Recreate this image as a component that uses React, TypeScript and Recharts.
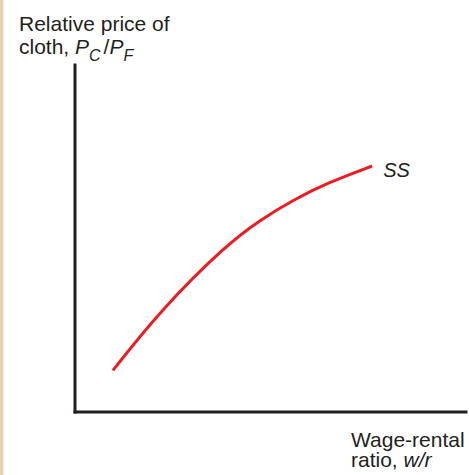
import React from 'react';
import { Line, LineChart, XAxis, YAxis } from 'recharts';

// points (arbitrary units, 0-100 on both axes)
const wageRental = [9.7, 21.7, 38.6, 47.3, 55.8, 64.5, 76.0];
const relPrice = [12.0, 29.1, 48.1, 55.3, 61.1, 66.0, 70.9];
const curveName = 'SS';

const data = wageRental.map((x, i) => ({ x, y: relPrice[i] }));

const ink = '#231f20';
const font = '"Liberation Sans", Arial, Helvetica, sans-serif';

function EndLabel(props: any) {
  const { x, y, index } = props;
  if (index !== data.length - 1) return null;
  return (
    <text x={x + 11} y={y + 11} fill={ink} fontSize={20} fontStyle="italic" fontFamily={font}>
      {curveName}
    </text>
  );
}

export default function App() {
  return (
    <div style={{ position: 'absolute', left: 0, top: 0, width: 469, height: 475, background: '#fff', fontFamily: font, color: ink }}>
      <div style={{ position: 'absolute', left: 0, top: 0, width: 3, height: 475, background: '#e6d2ad' }} />
      <div style={{ position: 'absolute', left: 3, top: 0, width: 1, height: 475, background: '#f4eadb' }} />

      <div style={{ position: 'absolute', left: 19, top: 12, fontSize: 21, lineHeight: '23px', whiteSpace: 'nowrap' }}>
        Relative price of<br />
        cloth, <i>P<sub style={{ fontSize: 16, verticalAlign: -7 }}>C</sub></i>
        <span style={{ marginLeft: 3 }}>/</span>
        <i>P<sub style={{ fontSize: 16, verticalAlign: -7 }}>F</sub></i>
      </div>

      <div style={{ position: 'absolute', left: 351, top: 430, fontSize: 21, lineHeight: '20px', whiteSpace: 'nowrap' }}>
        Wage-rental<br />
        ratio, <i>w/r</i>
      </div>

      <LineChart width={469} height={475} data={data} margin={{ top: 65, right: 3, bottom: 62, left: 74 }} style={{ position: 'absolute', left: 0, top: 0 }}>
        <XAxis dataKey="x" type="number" domain={[0, 100]} height={1} tick={false} tickLine={false} axisLine={{ stroke: ink, strokeWidth: 3, strokeLinecap: 'square' }} />
        <YAxis dataKey="y" type="number" domain={[0, 100]} width={1} tick={false} tickLine={false} axisLine={{ stroke: ink, strokeWidth: 3, strokeLinecap: 'square' }} />
        <Line type="basis" dataKey="y" stroke="#ed1c24" strokeWidth={3} dot={false} isAnimationActive={false} label={<EndLabel />} />
      </LineChart>
    </div>
  );
}
